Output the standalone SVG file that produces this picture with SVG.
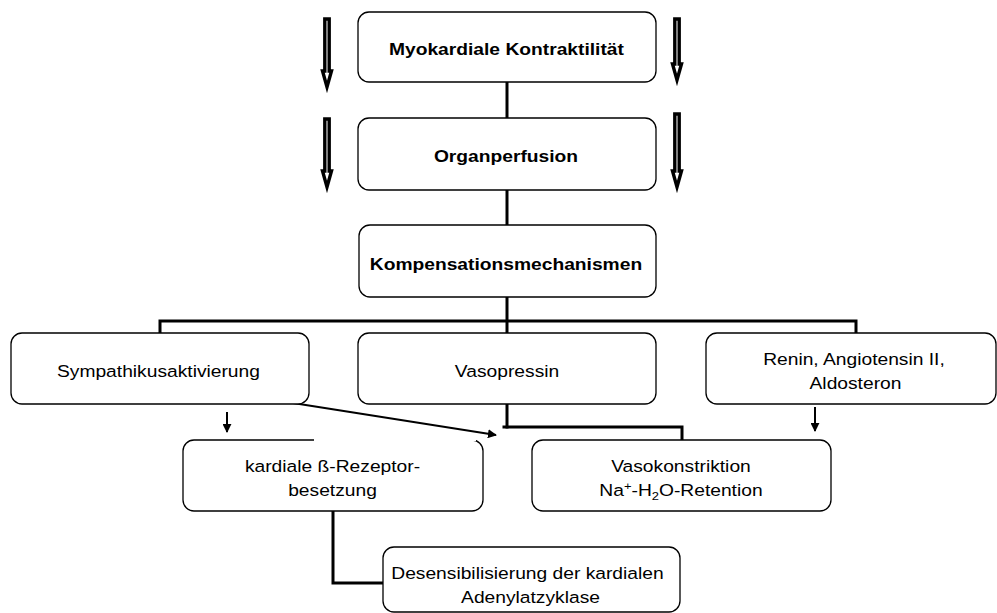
<svg xmlns="http://www.w3.org/2000/svg" width="997" height="613" viewBox="0 0 997 613">
<style>
  .box { fill: #ffffff; stroke: #000000; stroke-width: 1.3; }
  .t { font-family: "Liberation Sans", Arial, Helvetica, sans-serif; font-size: 16.3px; fill: #000000; text-anchor: middle; }
  .b { font-weight: bold; }
  .thick { fill: none; stroke: #000000; stroke-width: 3; stroke-linecap: square; }
  .thin { fill: none; stroke: #000000; stroke-width: 2; }
  .hollow { fill: #ffffff; stroke: #000000; stroke-width: 3.4; stroke-linejoin: miter; stroke-miterlimit: 10; }
</style>
<defs>
  <marker id="ah" viewBox="0 0 10 10" refX="9" refY="5" markerWidth="4.5" markerHeight="4.5" markerUnits="strokeWidth" orient="auto">
    <path d="M0,0 L10,5 L0,10 Z" fill="#000000"/>
  </marker>
</defs>
<rect width="997" height="613" fill="#ffffff"/>

<g id="connectors">
  <path class="thick" d="M507,82 V118"/>
  <path class="thick" d="M507,190 V225"/>
  <path class="thick" d="M507,297 V333"/>
  <path class="thick" d="M160,333 V321 H856 V333"/>
  <path class="thick" d="M507,404 V427"/>
  <path class="thick" d="M504,427 H682 V440"/>
  <path class="thick" d="M333,511 V583 H383"/>
  <path class="thin" d="M227,412 V432" marker-end="url(#ah)"/>
  <path class="thin" d="M815,407 V431" marker-end="url(#ah)"/>
  <path class="thin" d="M293,403 L496,435" marker-end="url(#ah)"/>
  <!-- hollow trend arrows -->
  <path class="hollow" d="M324.8,19 H329.2 V71 H331.5 L327,87 L322.5,71 H324.8 Z"/>
  <path class="hollow" d="M324.8,119 H329.2 V171 H331.5 L327,187 L322.5,171 H324.8 Z"/>
  <path class="hollow" d="M674.8,19 H679.2 V64 H681.5 L677,80 L672.5,64 H674.8 Z"/>
  <path class="hollow" d="M674.8,114 H679.2 V171 H681.5 L677,187 L672.5,171 H674.8 Z"/>
</g>

<g id="n-myokard">
  <rect class="box" x="358" y="12" width="298" height="70" rx="11"/>
  <text class="t b" transform="scale(1.18 1)" x="429.2" y="55">Myokardiale Kontraktilität</text>
</g>
<g id="n-organ">
  <rect class="box" x="358" y="118" width="298" height="72" rx="11"/>
  <text class="t b" transform="scale(1.18 1)" x="428.8" y="162">Organperfusion</text>
</g>
<g id="n-kompens">
  <rect class="box" x="359" y="225" width="297" height="72" rx="11"/>
  <text class="t b" transform="scale(1.18 1)" x="428.8" y="270">Kompensationsmechanismen</text>
</g>
<g id="n-sympathikus">
  <rect class="box" x="11" y="333" width="298" height="71" rx="11"/>
  <text class="t" transform="scale(1.18 1)" x="134.3" y="377">Sympathikusaktivierung</text>
</g>
<g id="n-vasopressin">
  <rect class="box" x="358" y="333" width="298" height="71" rx="11"/>
  <text class="t" transform="scale(1.18 1)" x="429.7" y="377">Vasopressin</text>
</g>
<g id="n-renin">
  <rect class="box" x="706" y="333" width="290" height="71" rx="11"/>
  <text class="t" transform="scale(1.18 1)" x="723.7" y="365">Renin, Angiotensin II,</text>
  <text class="t" transform="scale(1.18 1)" x="725" y="389">Aldosteron</text>
</g>
<g id="n-kardiale">
  <rect class="box" x="183" y="440" width="300" height="71" rx="11"/>
  <line x1="314" y1="440" x2="476" y2="440" stroke="#ffffff" stroke-width="2.2"/>
  <text class="t" transform="scale(1.18 1)" x="281.8" y="472">kardiale ß-Rezeptor-</text>
  <text class="t" transform="scale(1.18 1)" x="281.8" y="496">besetzung</text>
</g>
<g id="n-vasokonstriktion">
  <rect class="box" x="532" y="440" width="299" height="71" rx="11"/>
  <text class="t" transform="scale(1.18 1)" x="577.1" y="472">Vasokonstriktion</text>
  <text class="t" transform="scale(1.18 1)" x="577.1" y="496">Na<tspan font-size="11" dy="-6">+</tspan><tspan dy="6">-H</tspan><tspan font-size="11" dy="4">2</tspan><tspan dy="-4">O-Retention</tspan></text>
</g>
<g id="n-desens">
  <rect class="box" x="383" y="547" width="297" height="65" rx="11"/>
  <text class="t" transform="scale(1.18 1)" x="447" y="579">Desensibilisierung der kardialen</text>
  <text class="t" transform="scale(1.18 1)" x="449.6" y="603">Adenylatzyklase</text>
</g>
</svg>
